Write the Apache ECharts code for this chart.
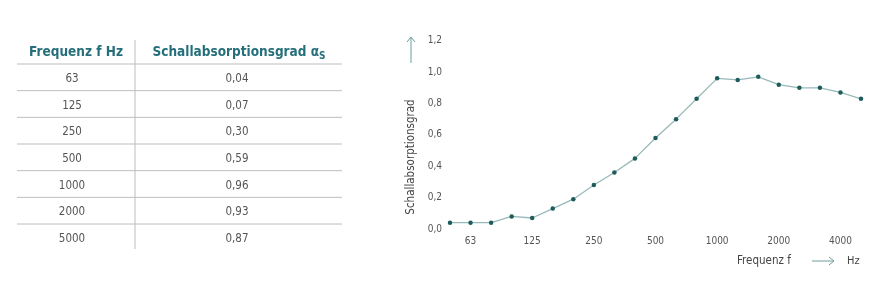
<!DOCTYPE html>
<html><head><meta charset="utf-8">
<script src="https://cdn.jsdelivr.net/npm/echarts@6/dist/echarts.min.js"></script>
<style>html,body{margin:0;padding:0;background:#fff}#c{width:886px;height:287px}</style>
</head><body><div id="c"></div>
<script>
const freqs = ['50','63','80','100','125','160','200','250','315','400','500','630','800','1000','1250','1600','2000','2500','3150','4000','5000'];
const absorption = [0.04,0.04,0.04,0.08,0.07,0.13,0.19,0.28,0.36,0.45,0.58,0.70,0.83,0.96,0.95,0.97,0.92,0.90,0.90,0.87,0.83];
const xTickLabels = ['63','125','250','500','1000','2000','4000'];
const tableHeader = ['Frequenz f Hz', 'Schallabsorptionsgrad α'];
const tableFreq = ['63','125','250','500','1000','2000','5000'];
const tableAlpha = ['0,04','0,07','0,30','0,59','0,96','0,93','0,87'];

const FONT = "'DejaVu Sans Condensed','Liberation Sans Narrow','Roboto',sans-serif";
const TEAL = '#256f7a';
const TXT = '#555';
const LINE = '#bdbdbd';

const g = [];
// header
g.push({type:'text', style:{text:tableHeader[0], x:76, y:52, align:'center', verticalAlign:'middle', font:'bold 13.5px '+FONT, fill:TEAL}});
g.push({type:'text', style:{text:'{h|'+tableHeader[1]+'}{s|S}', x:239, y:52, align:'center', verticalAlign:'middle',
  rich:{h:{fontFamily:FONT, fontSize:13.5, fontWeight:'bold', fill:TEAL, color:TEAL},
        s:{fontFamily:FONT, fontSize:10, fontWeight:'bold', fill:TEAL, color:TEAL, padding:[8,0,0,0]}}}});
// horizontal lines + rows
for (let i = 0; i < tableFreq.length; i++) {
  const y = 64 + i * 26.67;
  g.push({type:'line', shape:{x1:17, y1:y, x2:342, y2:y}, style:{stroke:LINE, lineWidth:1}});
  const cy = y + 15;
  g.push({type:'text', style:{text:tableFreq[i], x:72, y:cy, align:'center', verticalAlign:'middle', font:'11.5px '+FONT, fill:TXT}});
  g.push({type:'text', style:{text:tableAlpha[i], x:237, y:cy, align:'center', verticalAlign:'middle', font:'11.5px '+FONT, fill:TXT}});
}
// vertical separator
g.push({type:'line', shape:{x1:135, y1:40, x2:135, y2:249}, style:{stroke:LINE, lineWidth:1}});

// y axis name + arrow
g.push({type:'text', x:411, y:157, rotation:Math.PI/2, style:{text:'Schallabsorptionsgrad', align:'center', verticalAlign:'middle', font:'11.5px '+FONT, fill:'#444'}});
const AR = '#6f9c9e';
g.push({type:'line', shape:{x1:411, y1:63, x2:411, y2:38}, style:{stroke:AR, lineWidth:1}});
g.push({type:'polyline', shape:{points:[[407,42],[411,37],[415,42]]}, style:{stroke:AR, lineWidth:1, fill:null}});
// x axis name + arrow
g.push({type:'text', style:{text:'Frequenz f', x:737, y:261, align:'left', verticalAlign:'middle', font:'11.5px '+FONT, fill:'#444'}});
g.push({type:'line', shape:{x1:812, y1:261, x2:833, y2:261}, style:{stroke:AR, lineWidth:1}});
g.push({type:'polyline', shape:{points:[[829,257],[834,261],[829,265]]}, style:{stroke:AR, lineWidth:1, fill:null}});
g.push({type:'text', style:{text:'Hz', x:847, y:261, align:'left', verticalAlign:'middle', font:'11px '+FONT, fill:'#444'}});

const chart = echarts.init(document.getElementById('c'), null, {renderer:'canvas'});
chart.setOption({
  animation:false,
  backgroundColor:'#fff',
  grid:{left:450, right:25, top:40.7, bottom:58, containLabel:false},
  xAxis:{type:'category', data:freqs, boundaryGap:false,
    axisLine:{show:false}, axisTick:{show:false}, splitLine:{show:false},
    axisLabel:{interval:function(i,v){return xTickLabels.indexOf(v)>=0;}, margin:7, color:TXT, fontSize:10, fontFamily:FONT}},
  yAxis:{type:'value', min:0, max:1.2, interval:0.2,
    axisLine:{show:false}, axisTick:{show:false}, splitLine:{show:false},
    axisLabel:{margin:8, color:TXT, fontSize:10, fontFamily:FONT, formatter:function(v){return v.toFixed(1).replace('.',',');}}},
  series:[{type:'line', data:absorption, symbol:'circle', symbolSize:4.5, showSymbol:true,
    lineStyle:{color:'#98b9ba', width:1.3}, itemStyle:{color:'#1e5c5c'}}],
  graphic:g
});
</script></body></html>
